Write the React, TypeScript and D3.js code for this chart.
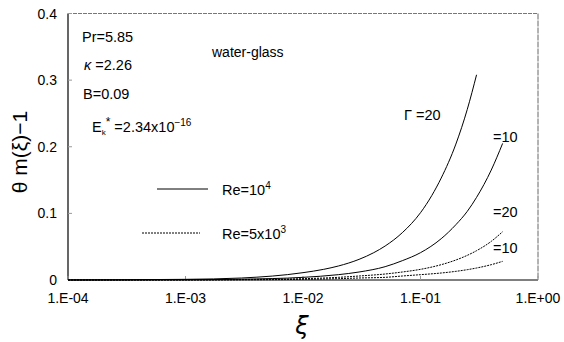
import React from "react";
import * as d3 from "d3";

const xiTicks = [1e-4, 1e-3, 1e-2, 1e-1, 1];
const xiTickLabels = ["1.E-04", "1.E-03", "1.E-02", "1.E-01", "1.E+00"];
const yTicks = [0, 0.1, 0.2, 0.3, 0.4];
const yTickLabels = ["0", "0.1", "0.2", "0.3", "0.4"];

// Re=1e4, Γ=20 (solid)
const xiSolid20 = [1e-4, 1e-3, 3e-3, 0.01, 0.015, 0.02, 0.03, 0.04, 0.05, 0.07, 0.1, 0.125, 0.15, 0.2, 0.25, 0.3];
const thSolid20 = [0.0001, 0.001, 0.003, 0.011, 0.016, 0.021, 0.031, 0.041, 0.051, 0.071, 0.101, 0.127, 0.153, 0.204, 0.256, 0.308];
// Re=1e4, Γ=10 (solid)
const xiSolid10 = [1e-4, 1e-3, 3e-3, 0.01, 0.02, 0.03, 0.05, 0.07, 0.1, 0.15, 0.2, 0.25, 0.3, 0.4, 0.5];
const thSolid10 = [0.00004, 0.0004, 0.0012, 0.004, 0.008, 0.012, 0.02, 0.029, 0.041, 0.062, 0.083, 0.103, 0.124, 0.165, 0.205];
// Re=5e3, Γ=20 (dotted)
const xiDot20 = [1e-4, 1e-3, 3e-3, 0.01, 0.02, 0.03, 0.05, 0.07, 0.1, 0.15, 0.2, 0.25, 0.3, 0.4, 0.5];
const thDot20 = [0.00002, 0.0002, 0.0007, 0.002, 0.004, 0.006, 0.009, 0.012, 0.016, 0.023, 0.030, 0.037, 0.044, 0.058, 0.0725];
// Re=5e3, Γ=10 (dotted)
const xiDot10 = [1e-4, 1e-3, 3e-3, 0.01, 0.02, 0.03, 0.05, 0.07, 0.1, 0.15, 0.2, 0.25, 0.3, 0.4, 0.5];
const thDot10 = [0.00001, 0.0001, 0.0003, 0.001, 0.002, 0.003, 0.004, 0.006, 0.008, 0.0105, 0.013, 0.0155, 0.018, 0.023, 0.028];

const FONT = "'Liberation Sans', Arial, sans-serif";

export default function App() {
  const W = 564, H = 342;
  const L = 68, R = 538, T = 13.5, B = 280;
  const x = d3.scaleLog().domain([1e-4, 1]).range([L, R]);
  const y = d3.scaleLinear().domain([0, 0.4]).range([B, T]);
  const line = d3
    .line<[number, number]>()
    .x((d) => x(d[0]))
    .y((d) => y(d[1]))
    .curve(d3.curveMonotoneX);
  const mk = (xs: number[], ys: number[]) => line(xs.map((v, i) => [v, ys[i]] as [number, number])) || "";

  return (
    <svg width={W} height={H} style={{ position: "absolute", left: 0, top: 0, background: "#fff" }} fontFamily={FONT}>
      <rect x={0} y={0} width={W} height={H} fill="#fff" />
      {/* frame */}
      <line x1={L} y1={T} x2={R} y2={T} stroke="#777" strokeWidth={1} strokeDasharray="4,1" />
      <line x1={R} y1={T} x2={R} y2={B} stroke="#666" strokeWidth={1} strokeDasharray="6,1" />
      <line x1={L} y1={T} x2={L} y2={B} stroke="#000" strokeWidth={1.2} />
      <line x1={L} y1={B} x2={R} y2={B} stroke="#000" strokeWidth={1.2} />
      {/* y ticks */}
      {yTicks.map((t, i) => (
        <g key={"y" + i}>
          <line x1={L} x2={L + 4} y1={y(t)} y2={y(t)} stroke="#999" />
          <text x={57} y={y(t) + 5} textAnchor="end" fontSize={14}>{yTickLabels[i]}</text>
        </g>
      ))}
      {/* x ticks */}
      {xiTicks.map((t, i) => (
        <g key={"x" + i}>
          <line x1={x(t)} x2={x(t)} y1={B} y2={B - 4} stroke="#999" />
          <text x={x(t)} y={303} textAnchor="middle" fontSize={14}>{xiTickLabels[i]}</text>
        </g>
      ))}
      {/* curves */}
      <path d={mk(xiSolid20, thSolid20)} fill="none" stroke="#000" strokeWidth={1} />
      <path d={mk(xiSolid10, thSolid10)} fill="none" stroke="#000" strokeWidth={1} />
      <path d={mk(xiDot20, thDot20)} fill="none" stroke="#000" strokeWidth={1} strokeDasharray="2,1" />
      <path d={mk(xiDot10, thDot10)} fill="none" stroke="#000" strokeWidth={1} strokeDasharray="2,1" />
      {/* axis titles */}
      <text x={302} y={334} textAnchor="middle" fontSize={24} fontStyle="italic" fontFamily="'DejaVu Sans', sans-serif">ξ</text>
      <text transform="translate(27,152) rotate(-90)" textAnchor="middle" fontSize={21}>
        θ m(ξ)−1
      </text>
      {/* annotations */}
      <text x={82} y={42} fontSize={14.5}>Pr=5.85</text>
      <text x={84} y={70} fontSize={14.5}><tspan fontStyle="italic">κ</tspan> =2.26</text>
      <text x={83} y={99} fontSize={14.5}>B=0.09</text>
      <text x={92} y={132} fontSize={14.5}>
        E<tspan fontSize={8} dy={3}>k</tspan><tspan fontSize={12} dy={-9}>*</tspan>
        <tspan dy={6}> =2.34x10</tspan><tspan fontSize={10} dy={-6}>−16</tspan>
      </text>
      <text x={212} y={57} fontSize={14}>water-glass</text>
      <text x={404} y={120} fontSize={14.5}>Γ =20</text>
      <text x={493} y={142} fontSize={14.5}>=10</text>
      <text x={493} y={217} fontSize={14.5}>=20</text>
      <text x={493} y={253} fontSize={14.5}>=10</text>
      {/* legend */}
      <line x1={157} x2={208} y1={189} y2={189} stroke="#000" strokeWidth={1} />
      <text x={222} y={195} fontSize={14.5}>Re=10<tspan fontSize={10} dy={-6}>4</tspan></text>
      <line x1={142} x2={200} y1={233} y2={233} stroke="#000" strokeWidth={1} strokeDasharray="2,1" />
      <text x={222} y={239} fontSize={14.5}>Re=5x10<tspan fontSize={10} dy={-6}>3</tspan></text>
    </svg>
  );
}
